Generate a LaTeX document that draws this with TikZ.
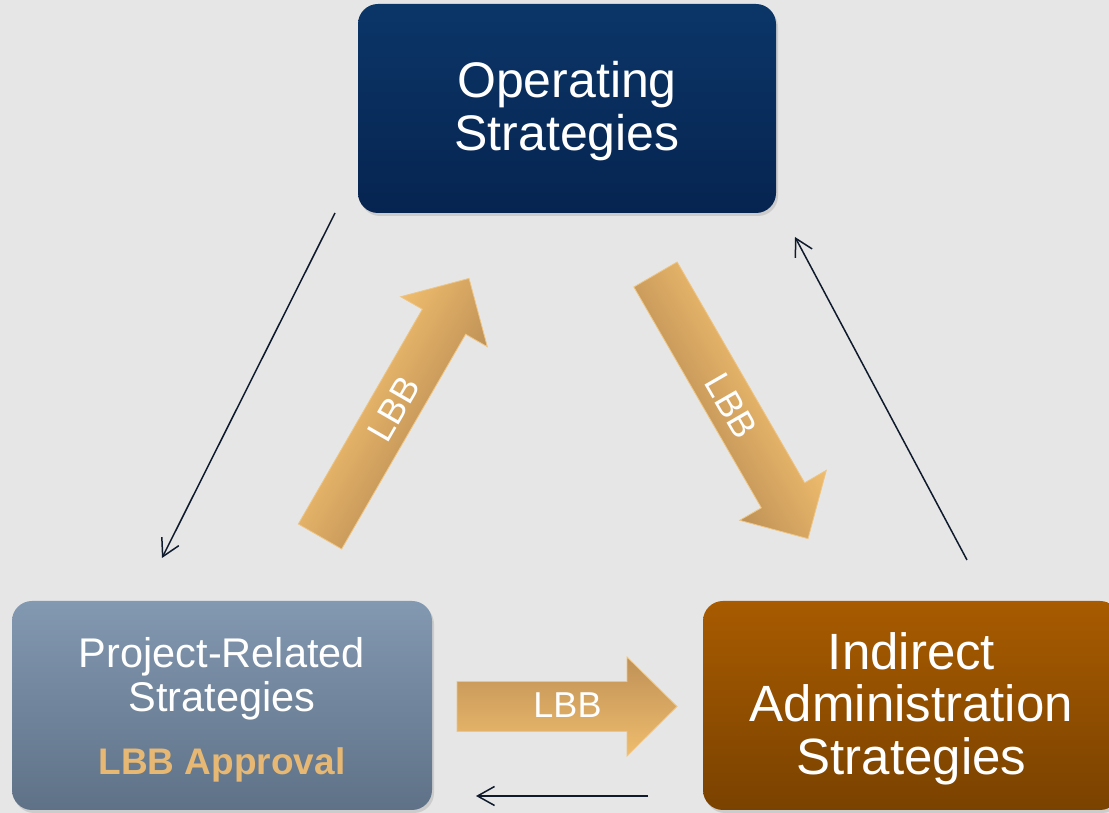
\documentclass[tikz,border=0pt]{standalone}
\usepackage{fontspec}
\setmainfont{Liberation Sans}
\usetikzlibrary{arrows.meta,shadows}
\definecolor{bg}{HTML}{E6E6E6}
\definecolor{opTop}{HTML}{0B3668}
\definecolor{opBot}{HTML}{062450}
\definecolor{prTop}{HTML}{8399B1}
\definecolor{prBot}{HTML}{5E7187}
\definecolor{inTop}{HTML}{A85B00}
\definecolor{inBot}{HTML}{7A4200}
\definecolor{goldL}{HTML}{F0BD6E}
\definecolor{goldD}{HTML}{BE9156}
\definecolor{goldEdge}{HTML}{EDC584}
\definecolor{approval}{HTML}{E6B873}
\definecolor{lineCol}{HTML}{0F1B2D}
\newcommand{\topstrut}[1]{\rule{0pt}{#1}}
\begin{document}
\begin{tikzpicture}[x=1pt,y=1pt,
  box/.style={rectangle, rounded corners=20pt, inner sep=0pt, align=center, text=white,
    drop shadow={shadow xshift=2pt, shadow yshift=-3pt, opacity=0.25}},
  opbox/.style={box, minimum width=418pt, minimum height=209pt, top color=opTop, bottom color=opBot,
    font=\fontsize{50}{53}\selectfont},
  prbox/.style={box, minimum width=420pt, minimum height=209pt, top color=prTop, bottom color=prBot,
    font=\fontsize{41.5}{44}\selectfont},
  inbox/.style={box, minimum width=417pt, minimum height=209pt, top color=inTop, bottom color=inBot,
    font=\fontsize{51}{52.5}\selectfont},
  goldarrow/.style={draw=goldEdge, line width=0.8pt, line join=miter},
  lbb/.style={text=white, inner sep=0pt, font=\fontsize{36}{36}\selectfont},
  thinarrow/.style={draw=lineCol, line width=1.5pt, -{Straight Barb[length=17pt,width=19pt,line width=1.5pt]}}
]
\useasboundingbox (0,0) rectangle (1109,813);
\fill[bg] (0,0) rectangle (1109,813);

% boxes
\node[opbox] (op) at (567,704.5) {\topstrut{41pt}Operating\\Strategies};
\node[prbox] (pr) at (222,107.5) {\topstrut{38pt}Project-Related\\Strategies\\[19pt]{\color{approval}\bfseries\fontsize{37}{37}\selectfont LBB Approval}};
\node[inbox] (in) at (911.5,107.5) {\topstrut{43pt}Indirect\\Administration\\Strategies};

% horizontal block arrow
\shade[goldarrow, top color=goldD, bottom color=goldL]
  (457,81.5) -- (627,81.5) -- (627,57) -- (677,106.5) -- (627,156) -- (627,131.5) -- (457,131.5) -- cycle;
\node[lbb] (lbb3) at (567.5,107.5) {LBB};

% up-right block arrow
\begin{scope}[transform canvas={shift={(320pt,276.5pt)},rotate=60}]
  \shade[goldarrow, top color=goldL, bottom color=goldD]
    (0,-25) -- (248,-25) -- (248,-50) -- (298,0) -- (248,50) -- (248,25) -- (0,25) -- cycle;
  \node[lbb] (lbb1) at (147.5,0) {LBB};
\end{scope}

% down-right block arrow
\begin{scope}[transform canvas={shift={(655.5pt,538.5pt)},rotate=-60}]
  \shade[goldarrow, top color=goldL, bottom color=goldD]
    (0,-25) -- (255,-25) -- (255,-50) -- (305,0) -- (255,50) -- (255,25) -- (0,25) -- cycle;
  \node[lbb] (lbb2) at (152,0) {LBB};
\end{scope}

% thin arrows
\coordinate (a1s) at (335,600);
\coordinate (a1e) at (162,255);
\coordinate (a2s) at (967,253);
\coordinate (a2e) at (795,576);
\coordinate (a3s) at (648,17);
\coordinate (a3e) at (476,17);
\draw[thinarrow] (a1s) -- (a1e);
\draw[thinarrow] (a2s) -- (a2e);
\draw[thinarrow] (a3s) -- (a3e);
\end{tikzpicture}
\end{document}
